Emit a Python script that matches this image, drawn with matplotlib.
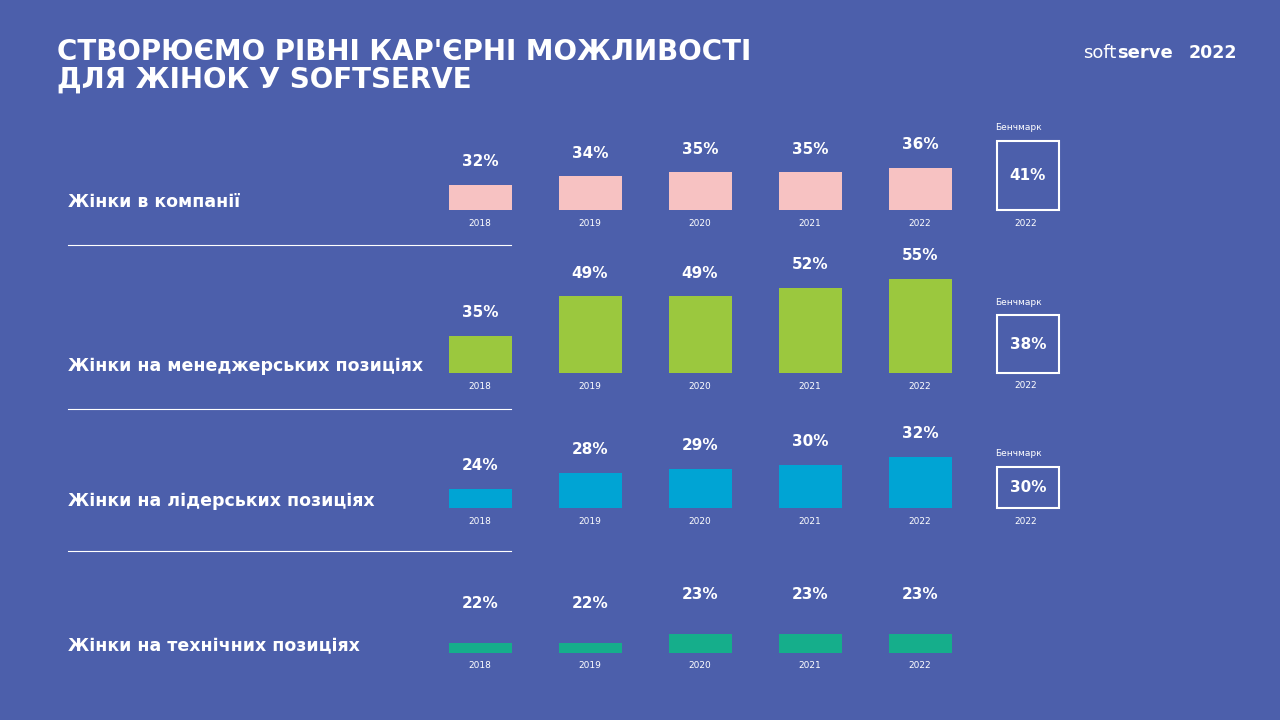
import matplotlib.pyplot as plt
from matplotlib.patches import Rectangle

plt.rcParams['font.family'] = ['DejaVu Sans']

years = ["2018", "2019", "2020", "2021", "2022"]
row_labels = ["Жінки в компанії", "Жінки на менеджерських позиціях",
              "Жінки на лідерських позиціях", "Жінки на технічних позиціях"]
company = [32, 34, 35, 35, 36]
managers = [35, 49, 49, 52, 55]
leaders = [24, 28, 29, 30, 32]
tech = [22, 22, 23, 23, 23]
benchmarks = [41, 38, 30, None]
series = [company, managers, leaders, tech]
colors = ["#F7C2C2", "#9BC83E", "#00A4D4", "#15AE8B"]
bg = "#4C5FAB"

# per-row layout: baseline px, px per %, axis bottom value, benchmark box top px
baselines = [210, 373, 508, 653]
ylims_bottom = [26.1, 22.0, 19.25, 20.9]
px_per = [4.25, 2.85, 4.0, 9.0]
label_off = [23, 23, 23, 40]
box_tops = [141, 315, 467, None]
label_y = [202, 366, 501, 646]
sep_y = [245, 409, 551]

W, H = 1280, 720
fig = plt.figure(figsize=(12.8, 7.2), dpi=100, facecolor=bg)

def fx(px): return px / W
def fy(py): return 1 - py / H

fig.text(fx(57), fy(52), "СТВОРЮЄМО РІВНІ КАР'ЄРНІ МОЖЛИВОСТІ", color="white",
         fontsize=20, fontweight="bold", va="center")
fig.text(fx(57), fy(80), "ДЛЯ ЖІНОК У SOFTSERVE", color="white",
         fontsize=20, fontweight="bold", va="center")
fig.text(fx(1083), fy(53), "soft", color="white", fontsize=13, va="center")
fig.text(fx(1117), fy(53), "serve", color="white", fontsize=13, fontweight="bold", va="center")
fig.text(fx(1189), fy(53), "2022", color="white", fontsize=12.5, fontweight="bold", va="center")

ax_h = 140
x0, x1, step = 420, 980, 110
for i, vals in enumerate(series):
    b = baselines[i]
    top_val = ylims_bottom[i] + ax_h / px_per[i]
    ax = fig.add_axes([fx(x0), fy(b), fx(x1 - x0), ax_h / H])
    ax.set_facecolor("none")
    ax.bar(range(5), vals, width=63 / step, color=colors[i])
    ax.set_ylim(ylims_bottom[i], top_val)
    left = -60 / step
    ax.set_xlim(left, left + (x1 - x0) / step)
    ax.axis("off")
    for j, v in enumerate(vals):
        ax.annotate(f"{v}%", (j, v), xytext=(0, label_off[i]),
                    textcoords="offset pixels", color="white", fontsize=11,
                    fontweight="bold", ha="center", va="center", annotation_clip=False)
        ax.annotate(years[j], (j, ylims_bottom[i]), xytext=(0, -13),
                    textcoords="offset pixels", color="white", fontsize=6.5,
                    ha="center", va="center", annotation_clip=False)
    fig.text(fx(68), fy(label_y[i]), row_labels[i], color="white",
             fontsize=12.5, fontweight="bold", va="center")
    if benchmarks[i] is not None:
        t = box_tops[i]
        fig.patches.append(Rectangle((fx(997), fy(b)), fx(62), (b - t) / H,
                                     transform=fig.transFigure, fill=False,
                                     edgecolor="white", linewidth=1.5))
        fig.text(fx(1028), fy((t + b) / 2), f"{benchmarks[i]}%", color="white",
                 fontsize=11, fontweight="bold", ha="center", va="center")
        fig.text(fx(995), fy(t - 13), "Бенчмарк", color="white", fontsize=6.5, va="center")
        fig.text(fx(1026), fy(b + 13), "2022", color="white", fontsize=6.5,
                 ha="center", va="center")

for y in sep_y:
    fig.add_artist(plt.Line2D([fx(68), fx(511)], [fy(y), fy(y)], color="white", lw=0.8))

fig.savefig("out.png", dpi=100, facecolor=bg)
